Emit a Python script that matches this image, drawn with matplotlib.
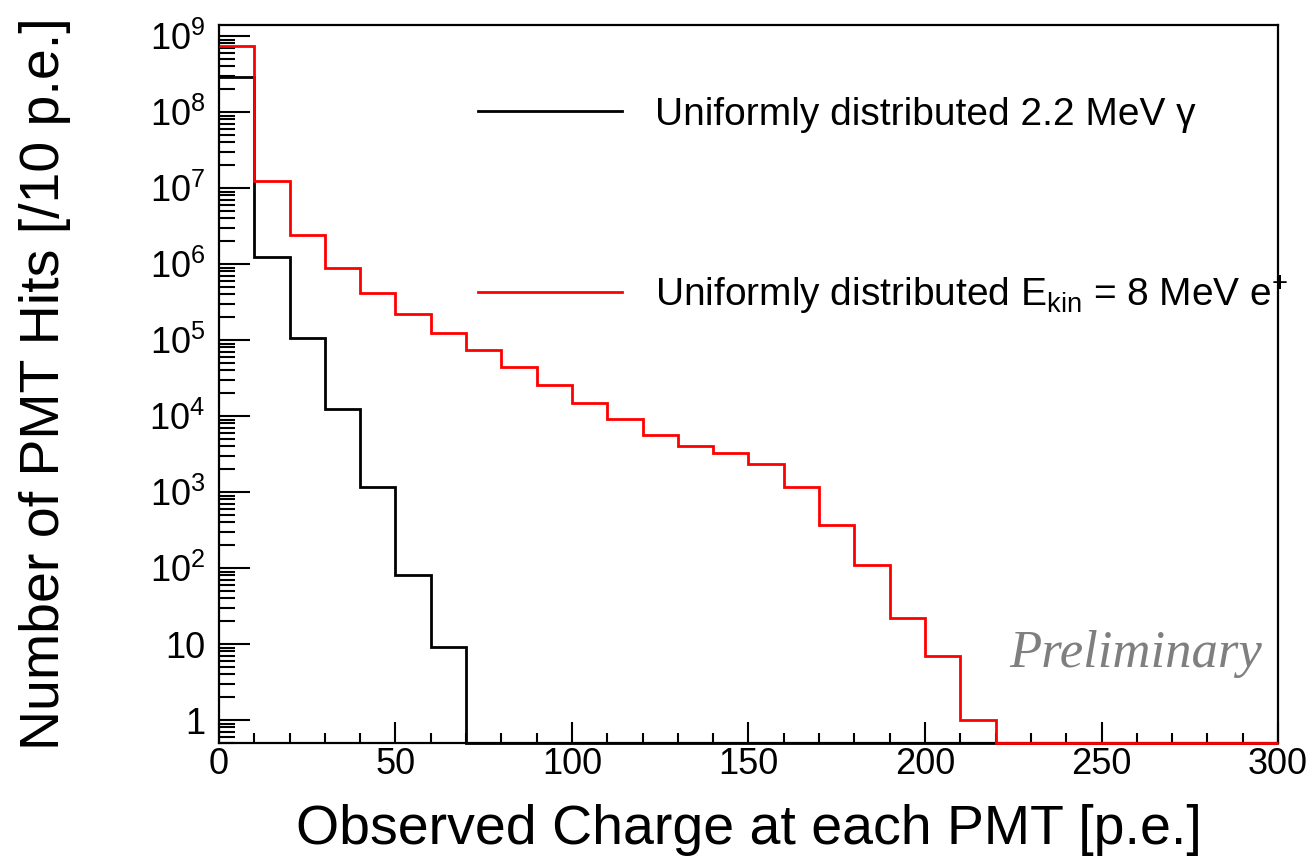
import numpy as np
import matplotlib
matplotlib.use("Agg")
import matplotlib.pyplot as plt
from matplotlib.ticker import FixedLocator, FixedFormatter, LogLocator, MultipleLocator, NullFormatter

# bin edges (p.e.), 10 p.e. per bin
edges = np.arange(0, 310, 10)

# 2.2 MeV gamma
gamma_counts = np.array([2.9e8, 1.25e6, 1.07e5, 1.25e4, 1.16e3, 80, 9.1,
                         0, 0, 0, 0, 0, 0, 0, 0, 0, 0, 0, 0, 0, 0, 0, 0,
                         0, 0, 0, 0, 0, 0, 0])
# Ekin = 8 MeV e+
positron_counts = np.array([7.4e8, 1.24e7, 2.43e6, 8.9e5, 4.15e5, 2.2e5, 1.23e5,
                            7.4e4, 4.45e4, 2.6e4, 1.48e4, 9.2e3, 5.7e3, 4.0e3,
                            3.24e3, 2.34e3, 1.16e3, 365, 110, 22, 7.0, 1.0,
                            0, 0, 0, 0, 0, 0, 0, 0])

ytick_vals = [1, 10, 1e2, 1e3, 1e4, 1e5, 1e6, 1e7, 1e8, 1e9]
ytick_labels = ["1", "10", "$10^{2}$", "$10^{3}$", "$10^{4}$", "$10^{5}$",
                "$10^{6}$", "$10^{7}$", "$10^{8}$", "$10^{9}$"]
xtick_vals = [0, 50, 100, 150, 200, 250, 300]

label_gamma = "Uniformly distributed 2.2 MeV γ"
label_pos = "Uniformly distributed E$_{\\mathrm{kin}}$ = 8 MeV e$^{+}$"

ymin, ymax = 0.5, 1.4e9

plt.rcParams['font.family'] = ['Liberation Sans', 'DejaVu Sans']
plt.rcParams['mathtext.fontset'] = 'custom'
plt.rcParams['mathtext.rm'] = 'Liberation Sans'
plt.rcParams['mathtext.it'] = 'Liberation Sans:italic'

fig = plt.figure(figsize=(13.12, 8.68), dpi=100)
ax = fig.add_axes([0.1669, 0.144, 0.8072, 0.8272])

# zero bins sit on the bottom of the frame like in ROOT
g_plot = np.where(gamma_counts > 0, gamma_counts, ymin)
p_plot = np.where(positron_counts > 0, positron_counts, ymin)
h1 = ax.stairs(g_plot, edges, baseline=None, color="black", lw=2.0, clip_on=False, zorder=2.8)
h2 = ax.stairs(p_plot, edges, baseline=None, color="#ff0000", lw=2.0, clip_on=False, zorder=3)

ax.set_yscale("log")
ax.set_xlim(0, 300)
ax.set_ylim(ymin, ymax)

ax.yaxis.set_major_locator(FixedLocator(ytick_vals))
ax.yaxis.set_major_formatter(FixedFormatter(ytick_labels))
ax.yaxis.set_minor_locator(LogLocator(base=10, subs=np.arange(2, 10), numticks=30))
ax.yaxis.set_minor_formatter(NullFormatter())
ax.xaxis.set_major_locator(FixedLocator(xtick_vals))
ax.xaxis.set_minor_locator(MultipleLocator(10))

ax.tick_params(axis="both", which="both", direction="in", top=False, right=False, width=1.5, labelsize=26)
ax.tick_params(axis="x", which="major", length=15, pad=3)
ax.tick_params(axis="x", which="minor", length=7.5)
ax.tick_params(axis="y", which="major", length=22, pad=10)
ax.tick_params(axis="y", which="minor", length=11.5)
for s in ax.spines.values():
    s.set_linewidth(1.6)

ax.set_xlabel("Observed Charge at each PMT [p.e.]", fontsize=40, va="top")
ax.xaxis.set_label_coords(0.5, -0.085)
ax.set_ylabel("Number of PMT Hits [/10 p.e.]", fontsize=40)
ax.yaxis.set_label_coords(-0.140, 0.5)

# two separate legend entries, like the ROOT TLegend
leg1 = ax.legend([h1], [label_gamma], loc="center left", bbox_to_anchor=(0.2446, 0.8747),
                 frameon=False, fontsize=28, handlelength=3.69, handletextpad=0.85,
                 borderpad=0, borderaxespad=0)
ax.add_artist(leg1)
leg2 = ax.legend([h2], [label_pos], loc="center left", bbox_to_anchor=(0.2446, 0.624),
                 frameon=False, fontsize=28, handlelength=3.69, handletextpad=0.85,
                 borderpad=0, borderaxespad=0)

ax.text(0.985, 0.106, "Preliminary", transform=ax.transAxes, ha="right", va="baseline",
        fontsize=38, style="italic", family="Liberation Serif", color="#7f7f7f")

fig.savefig("out.png", dpi=100)
